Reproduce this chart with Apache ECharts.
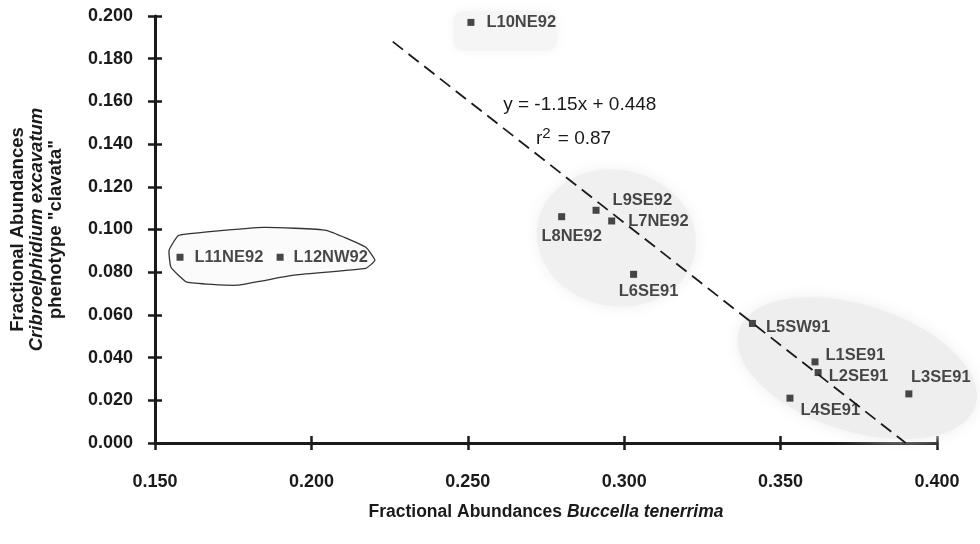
<!DOCTYPE html>
<html><head><meta charset="utf-8">
<script src="https://cdn.jsdelivr.net/npm/echarts@6/dist/echarts.min.js"></script>
<style>html,body{margin:0;padding:0;background:#fff}#c{width:980px;height:544px}</style>
</head><body><div id="c"></div>
<script>
// ---- data ----
const sites    = ['L1SE91','L2SE91','L3SE91','L4SE91','L5SW91','L6SE91','L7NE92','L8NE92','L9SE92','L10NE92','L11NE92','L12NW92'];
const buccella = [0.361, 0.362, 0.391, 0.353, 0.341, 0.303, 0.296, 0.280, 0.291, 0.251, 0.158, 0.190];
const clavata  = [0.038, 0.033, 0.023, 0.021, 0.056, 0.079, 0.104, 0.106, 0.109, 0.197, 0.087, 0.087];
const trendX   = [0.226, 0.390];
const trendY   = [0.188, 0.000];
const equationText = 'y = -1.15x + 0.448';
const r2Text = '0.87';

// ---- layout / style (not data) ----
const FONT = '"Liberation Sans", Arial, Helvetica, sans-serif';
const INK = '#1a1a1a';
const labelStyle = {
  L1SE91:  {position:'right',  distance:7,  offset:[0,-6]},
  L2SE91:  {position:'right',  distance:7,  offset:[0,4]},
  L3SE91:  {position:'top',    distance:4,  offset:[32,0]},
  L4SE91:  {position:'right',  distance:7,  offset:[0,12]},
  L5SW91:  {position:'right',  distance:10, offset:[0,4]},
  L6SE91:  {position:'bottom', distance:5,  offset:[15,0]},
  L7NE92:  {position:'right',  distance:13, offset:[0,0]},
  L8NE92:  {position:'bottom', distance:8,  offset:[10,0]},
  L9SE92:  {position:'right',  distance:13, offset:[0,-10]},
  L10NE92: {position:'right',  distance:12, offset:[0,0]},
  L11NE92: {position:'right',  distance:11, offset:[0,0]},
  L12NW92: {position:'right',  distance:10, offset:[0,0]}
};
// shaded grouping regions: centre in data units, radii in px
const shades = [
  {kind:'rect',    c:[0.262, 0.193], w:104, h:40, fill:'#f5f5f5'},
  {kind:'ellipse', c:[0.2975, 0.096], rx:80, ry:68, rot:-0.2, fill:'#f0f0f0'},
  {kind:'ellipse', c:[0.3745, 0.035], rx:124, ry:63, rot:-0.31, fill:'#eeeeee'}
];
const outline = [[0.1545,0.0902],[0.1576,0.0973],[0.1847,0.1010],[0.2047,0.0996],[0.2174,0.0917],
  [0.2203,0.0856],[0.2174,0.0818],[0.1942,0.0786],[0.1761,0.0739],[0.1602,0.0753],[0.1551,0.0823]];

const points = sites.map((s,i)=>({
  name:s, value:[buccella[i], clavata[i]],
  label:Object.assign({show:true, formatter:s}, labelStyle[s])
}));

const chart = echarts.init(document.getElementById('c'), null, {renderer:'canvas'});

const axisCommon = {
  axisLine:{show:true, lineStyle:{color:INK, width:3}},
  splitLine:{show:false}
};

chart.setOption({
  animation:false,
  backgroundColor:'#fff',
  grid:{left:151, right:43, top:16, bottom:101, containLabel:false},
  xAxis:[
    Object.assign({}, axisCommon, {
      type:'value', min:0.15, max:0.4, interval:0.05, position:'bottom',
      axisTick:{show:true, inside:false, length:7, lineStyle:{color:INK, width:2.5}},
      axisLabel:{margin:30, color:INK, fontFamily:FONT, fontSize:18, fontWeight:'bold',
        formatter:v=>v.toFixed(3)},
      name:'{n|Fractional Abundances }{i|Buccella tenerrima}',
      nameLocation:'middle', nameGap:60,
      nameTextStyle:{rich:{
        n:{fontFamily:FONT, fontSize:17.5, fontWeight:'bold', color:INK},
        i:{fontFamily:FONT, fontSize:17.5, fontWeight:'bold', fontStyle:'italic', color:INK}}}
    }),
    {type:'value', min:0.15, max:0.4, interval:0.05, position:'bottom',
      axisLine:{show:false}, splitLine:{show:false}, axisLabel:{show:false},
      axisTick:{show:true, inside:true, length:7, lineStyle:{color:INK, width:2.5}}}
  ],
  yAxis:[
    Object.assign({}, axisCommon, {
      type:'value', min:0, max:0.2, interval:0.02, position:'left',
      axisTick:{show:true, inside:false, length:7, lineStyle:{color:INK, width:2.5}},
      axisLabel:{margin:22, color:INK, fontFamily:FONT, fontSize:18, fontWeight:'bold',
        formatter:v=>v.toFixed(3)},
      name:'{n|Fractional Abundances}\n{i|Cribroelphidium excavatum}\n{n|phenotype "clavata"}',
      nameLocation:'middle', nameGap:90, nameRotate:90,
      nameTextStyle:{align:'center', rich:{
        n:{fontFamily:FONT, fontSize:18.5, fontWeight:'bold', color:INK, lineHeight:19, align:'center'},
        i:{fontFamily:FONT, fontSize:18.5, fontWeight:'bold', fontStyle:'italic', color:INK, lineHeight:19, align:'center'}}}
    }),
    {type:'value', min:0, max:0.2, interval:0.02, position:'left',
      axisLine:{show:false}, splitLine:{show:false}, axisLabel:{show:false},
      axisTick:{show:true, inside:true, length:7, lineStyle:{color:INK, width:2.5}}}
  ],
  series:[
    {
      type:'custom', z:1, silent:true, xAxisIndex:0, yAxisIndex:0,
      data:[[0.25,0.1]],
      renderItem:function(params, api){
        const children = shades.map(s=>{
          const p = api.coord(s.c);
          if (s.kind==='rect') {
            return {type:'rect', shape:{x:p[0]-s.w/2, y:p[1]-s.h/2, width:s.w, height:s.h, r:10},
              style:{fill:s.fill, shadowBlur:12, shadowColor:s.fill}};
          }
          return {type:'ellipse', x:p[0], y:p[1], rotation:s.rot,
            shape:{cx:0, cy:0, rx:s.rx, ry:s.ry},
            style:{fill:s.fill, shadowBlur:16, shadowColor:s.fill}};
        });
        children.push({type:'polygon', shape:{points:outline.map(q=>api.coord(q)), smooth:0.12},
          style:{fill:'#fbfbfb', stroke:'#333', lineWidth:1.3}});
        return {type:'group', children:children};
      }
    },
    {
      type:'line', z:3, silent:true, symbol:'none',
      data:trendX.map((x,i)=>[x, trendY[i]]),
      lineStyle:{color:INK, width:1.8, type:[13,7]}
    },
    {
      type:'scatter', z:4, symbol:'rect', symbolSize:7,
      itemStyle:{color:INK},
      label:{color:INK, fontFamily:FONT, fontSize:16.5, fontWeight:'bold'},
      data:points
    }
  ]
});

function placeNotes(){
  const e = chart.convertToPixel({gridIndex:0}, [0.2858, 0.1582]);
  const r = chart.convertToPixel({gridIndex:0}, [0.2838, 0.1432]);
  chart.setOption({graphic:[
    {type:'text', x:e[0], y:e[1], z:10,
      style:{text:equationText, fontFamily:FONT, fontSize:19, fontWeight:'normal', fill:INK,
        align:'center', verticalAlign:'middle'}},
    {type:'text', x:r[0], y:r[1], z:10,
      style:{text:'{b|r}{s|2}{b| = }{b|'+r2Text+'}', fill:INK, align:'center', verticalAlign:'middle',
        rich:{b:{fontFamily:FONT, fontSize:19, color:INK, lineHeight:22, verticalAlign:'bottom'},
              s:{fontFamily:FONT, fontSize:15, color:INK, lineHeight:22, verticalAlign:'top', padding:[0,2,6,0]}}}}
  ]});
}
placeNotes();
</script></body></html>
